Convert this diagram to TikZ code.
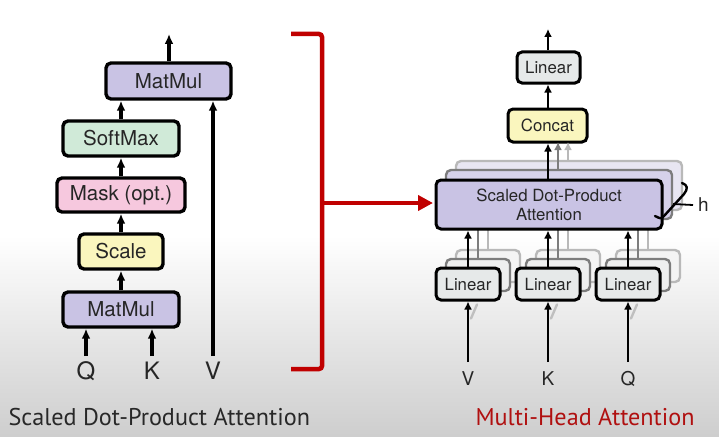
\documentclass[tikz,border=0pt]{standalone}
\usepackage{fontspec}
\setmainfont{TeX Gyre Heros}
\newfontfamily\capfont{PT Sans}
\usetikzlibrary{arrows.meta,calc}
\definecolor{lav}{RGB}{201,195,228}
\definecolor{lavB}{RGB}{214,210,234}
\definecolor{lavC}{RGB}{232,230,242}
\definecolor{grn}{RGB}{208,234,216}
\definecolor{pnk}{RGB}{246,200,222}
\definecolor{ylw}{RGB}{250,246,190}
\definecolor{lgr}{RGB}{230,233,233}
\definecolor{lgrB}{RGB}{238,239,239}
\definecolor{lgrC}{RGB}{244,244,244}
\definecolor{redc}{RGB}{192,0,0}
\definecolor{capred}{RGB}{176,16,16}
\definecolor{capgray}{RGB}{40,40,40}
\definecolor{shB}{RGB}{125,125,125}
\definecolor{shC}{RGB}{185,185,185}
\tikzset{
  lbox/.style={draw=black, line width=3.4pt, rounded corners=5pt, inner sep=0pt,
    font=\fontsize{20.5}{22}\selectfont, text=black!85},
  rbox/.style={draw=black, line width=3pt, rounded corners=5pt, inner sep=0pt,
    font=\fontsize{16.8}{19}\selectfont, text=black!85, align=center},
  shadowB/.style={rbox, draw=shB, line width=2.4pt},
  shadowC/.style={rbox, draw=shC, line width=2.4pt},
  larr/.style={line width=3.2pt, -{Latex[length=10pt,width=9pt]}},
  rarr/.style={line width=2.8pt, -{Latex[length=8pt,width=8pt]}},
  lab/.style={font=\fontsize{24}{26}\selectfont, text=black!85},
  rlab/.style={font=\fontsize{19}{21}\selectfont, text=black!85},
  captext/.style={font=\capfont\fontsize{24.2}{26}\selectfont, anchor=base west}
}
\begin{document}
\begin{tikzpicture}[x=1pt,y=-1pt]
\useasboundingbox (0,0) rectangle (719,436);
% background
\fill[white] (0,0) rectangle (719,236);
\shade[top color=white, bottom color={rgb,255:red,206;green,206;blue,206}] (0,235) rectangle (719,436);

% ---------- left: scaled dot-product attention ----------
\node[lbox, fill=lav, minimum width=125pt, minimum height=36pt] (mm2) at (168.5,81) {MatMul};
\node[lbox, fill=grn, minimum width=116pt, minimum height=35pt] (sm) at (121,138.5) {SoftMax};
\node[lbox, fill=pnk, minimum width=128pt, minimum height=34pt] (mask) at (121,195) {Mask (opt.)};
\node[lbox, fill=ylw, minimum width=84pt, minimum height=35pt] (sc) at (121,251.5) {Scale};
\node[lbox, fill=lav, minimum width=116pt, minimum height=35pt] (mm1) at (121,309.5) {MatMul};
\node[lab] (q) at (86,371) {Q};
\node[lab] (k) at (152,371) {K};
\node[lab] (v) at (213,371) {V};
\coordinate (outL) at (169,34);
\coordinate (qs) at (86,356);
\coordinate (ks) at (152,356);
\coordinate (vs) at (213,356);

\draw[larr] (mm2.north -| outL) -- (outL);
\draw[larr] (sm.north) -- (sm.north |- mm2.south);
\draw[larr] (mask.north) -- (sm.south);
\draw[larr] (sc.north) -- (mask.south);
\draw[larr] (mm1.north) -- (sc.south);
\draw[larr] (qs) -- (qs |- mm1.south);
\draw[larr] (ks) -- (ks |- mm1.south);
\draw[larr] (vs) -- (vs |- mm2.south);

% ---------- red bracket ----------
\coordinate (bt) at (291,34);
\coordinate (bb) at (291,369);
\coordinate (bm) at (322,203);
\draw[redc, line width=4.5pt, rounded corners=3pt] (bt) -- (322,34) -- (322,369) -- (bb);

% ---------- right: multi-head attention ----------
% layer C (back)
\node[shadowC, fill=lavC, minimum width=226pt, minimum height=49pt] (sdC) at (569,185.5) {};
\foreach \x/\n in {468/a,548/b,628/c}{
  \node[shadowC, fill=lgrC, minimum width=64pt, minimum height=32pt] (linC\n) at (\x+20,266) {};
}
\foreach \n in {a,b,c}{
  \draw[shC, line width=2.4pt] (linC\n.north) -- ++(0,-30);
}
% layer B
\node[shadowB, fill=lavB, minimum width=226pt, minimum height=49pt] (sdB) at (559,194.5) {};
\foreach \x/\n in {468/a,548/b,628/c}{
  \node[shadowB, fill=lgrB, minimum width=64pt, minimum height=32pt] (linB\n) at (\x+10,275) {};
}
\foreach \n in {a,b,c}{
  \draw[shB, line width=2.4pt] (linB\n.north) -- ++(0,-30);
}
% front
\node[rbox, fill=lav, minimum width=226pt, minimum height=49pt] (sdpa) at (549,204.5) {Scaled Dot-Product\\Attention};
\node[rbox, fill=lgr, minimum width=64pt, minimum height=32pt] (linV) at (468,284) {Linear};
\node[rbox, fill=lgr, minimum width=64pt, minimum height=32pt] (linK) at (548,284) {Linear};
\node[rbox, fill=lgr, minimum width=64pt, minimum height=32pt] (linQ) at (628,284) {Linear};
\node[rbox, fill=ylw, minimum width=79pt, minimum height=33pt] (concat) at (547.5,125.5) {Concat};
\node[rbox, fill=lgr, minimum width=63pt, minimum height=31pt] (linO) at (548.5,67.5) {Linear};

\coordinate (outR) at (548,29);
\draw[rarr] (linO.north -| outR) -- (outR);
\draw[rarr] (concat.north -| outR) -- (linO.south -| outR);
\draw[rarr, shC] (sdC.north -| 568,0) -- (568,142);
\draw[rarr, shB] (sdB.north -| 558,0) -- (558,142);
\draw[rarr] (sdpa.north -| outR) -- (concat.south -| outR);
\draw[rarr] (linV.north) -- (linV.north |- sdpa.south);
\draw[rarr] (linK.north) -- (linK.north |- sdpa.south);
\draw[rarr] (linQ.north) -- (linQ.north |- sdpa.south);

\node[rlab] (vr) at (468,379) {V};
\node[rlab] (kr) at (548,379) {K};
\node[rlab] (qr) at (628,379) {Q};
\coordinate (vin) at (468,362);
\coordinate (kin) at (548,362);
\coordinate (qin) at (628,362);
\foreach \c/\n in {vin/linV,kin/linK,qin/linQ}{
  \draw[black!25, line width=2.4pt, line cap=round] ($(\c |- \n.south)+(3,17)$) -- ($(\c |- \n.south)+(9,3)$);
}
\draw[rarr] (vin) -- (linV.south);
\draw[rarr] (kin) -- (linK.south);
\draw[rarr] (qin) -- (linQ.south);

% h brace
\coordinate (hb1) at (682,183);
\coordinate (hb2) at (655,216);
\coordinate (hm) at (673,204);
\draw[black, line width=2.4pt, line cap=round, line join=round] (hb1) .. controls (688,185) and (688,189) .. (684,194) -- (664,216) .. controls (661,219) .. (hb2);
\node[rlab, anchor=west, inner sep=0pt] (h) at (698,205) {h};
\draw[black, line width=1.8pt] (hm) -- ([xshift=-5pt]h.west);

% red arrow
\coordinate (ra) at (433,203);
\draw[redc, line width=4pt, -{Triangle[length=15pt,width=15pt]}] (bm) -- (ra);

% captions
\node[captext, text=capgray] (c1) at (5,425) {Scaled Dot-Product Attention};
\node[captext, text=capred] (c2) at (472,425) {Multi-Head Attention};
\end{tikzpicture}
\end{document}
